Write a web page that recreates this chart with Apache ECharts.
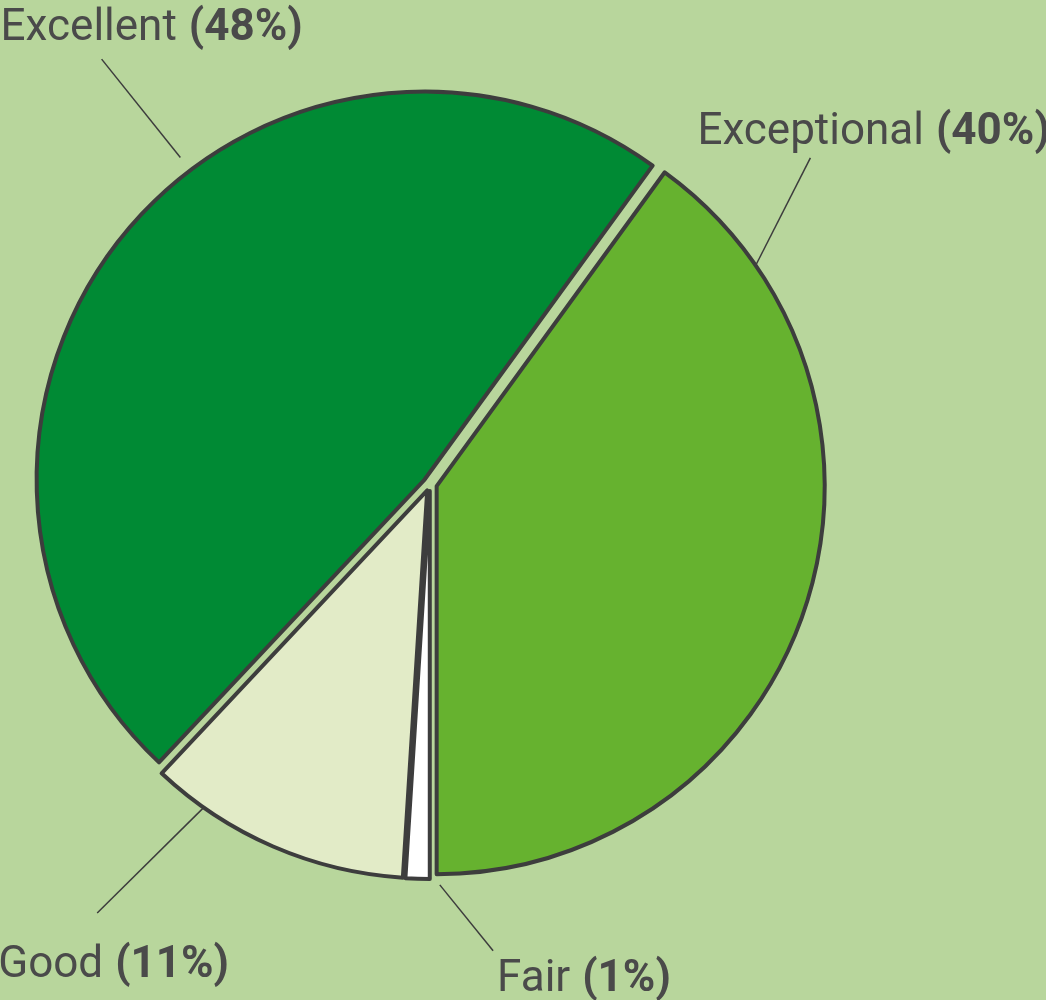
<!DOCTYPE html>
<html>
<head>
<meta charset="utf-8">
<script src="https://cdn.jsdelivr.net/npm/echarts@6/dist/echarts.min.js"></script>
<style>
  html, body { margin: 0; padding: 0; background: #b8d69c; }
  #main { width: 1046px; height: 1000px; }
</style>
</head>
<body>
<div id="main"></div>
<script>
  // data, clockwise from the top-right
  let categories = ['Exceptional', 'Fair', 'Good', 'Excellent'];
  let percents = [40, 1, 11, 48];
  let sliceColors = ['#66b22f', '#ffffff', '#e2ebc7', '#008a34'];

  let cx = 430, cy = 484;
  // label line anchors: [angle start, radius start, angle end, radius end] (deg clockwise from top), text offset from line end
  let anchors = {
    Exceptional: { a: [56.4, 389, 49.4, 501], dx: -113, dy: -25 },
    Fair: { a: [178.6, 401, 172.3, 471], dx: 4, dy: 29 },
    Good: { a: [215.0, 396, 217.8, 543], dx: -99, dy: 53 },
    Excellent: { a: [322.6, 411, 322.3, 537], dx: -101, dy: -30 }
  };
  function polar(deg, r) {
    let t = deg * Math.PI / 180;
    return [cx + r * Math.sin(t), cy - r * Math.cos(t)];
  }

  let pieBase = {
    type: 'pie',
    center: [cx, cy],
    radius: 388,
    startAngle: 54,
    avoidLabelOverlap: false,
    emphasis: { disabled: true }
  };

  let chart = echarts.init(document.getElementById('main'));
  chart.setOption({
    backgroundColor: '#b8d69c',
    animation: false,
    series: [
      // exploded slices
      Object.assign({}, pieBase, {
        selectedMode: 'multiple',
        selectedOffset: 7,
        itemStyle: { borderColor: '#3d3d3d', borderWidth: 4, borderJoin: 'round' },
        select: { itemStyle: { borderColor: '#3d3d3d', borderWidth: 4 } },
        label: { show: false },
        labelLine: { show: false },
        data: categories.map((c, i) => ({
          name: c,
          value: percents[i],
          selected: true,
          itemStyle: { color: sliceColors[i] }
        }))
      }),
      // labels only
      Object.assign({}, pieBase, {
        silent: true,
        itemStyle: { color: 'rgba(0,0,0,0)', borderWidth: 0 },
        label: {
          show: true,
          position: 'outside',
          formatter: p => '{n|' + p.name + '}{b|(' + p.value + '%)}',
          rich: {
            n: { fontFamily: 'Roboto', fontSize: 44, color: '#4a4a4a', padding: [0, 12, 0, 0] },
            b: { fontFamily: 'Roboto', fontSize: 44, fontWeight: 'bold', color: '#4a4a4a' }
          }
        },
        labelLine: { show: true, length: 100, length2: 0, lineStyle: { color: '#3d3d3d', width: 1.5 } },
        labelLayout: function (params) {
          let an = anchors[categories[params.dataIndex]];
          let p1 = polar(an.a[0], an.a[1]);
          let p2 = polar(an.a[2], an.a[3]);
          return {
            x: p2[0] + an.dx,
            y: p2[1] + an.dy,
            align: 'left',
            verticalAlign: 'middle',
            labelLinePoints: [p1, p2, p2]
          };
        },
        data: categories.map((c, i) => ({ name: c, value: percents[i] }))
      })
    ]
  });
</script>
</body>
</html>
